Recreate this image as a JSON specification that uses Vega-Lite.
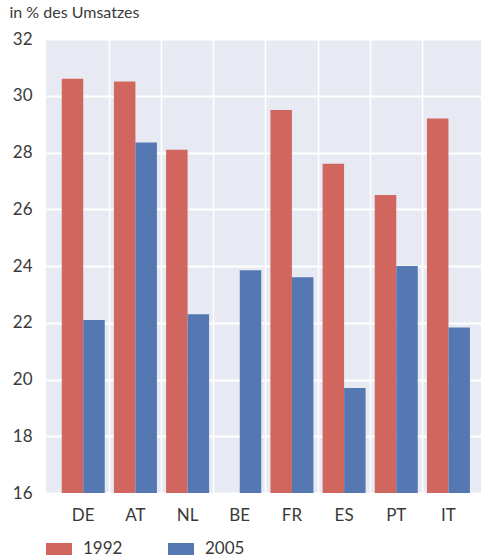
{
  "$schema": "https://vega.github.io/schema/vega-lite/v6.json",
  "width": 435,
  "height": 454,
  "autosize": {"type": "none"},
  "padding": {"left": 46, "top": 39, "right": 2, "bottom": 67},
  "background": "white",
  "config": {
    "view": {"fill": "#E8EAF3", "stroke": null},
    "font": "Lato",
    "axis": {"labelFont": "Lato", "labelColor": "#3a3a3a", "titleFont": "Lato"},
    "legend": {"labelFont": "Lato"}
  },
  "data": {
    "values": [
      {"country": "DE", "year": "1992", "value": 30.6},
      {"country": "DE", "year": "2005", "value": 22.1},
      {"country": "AT", "year": "1992", "value": 30.5},
      {"country": "AT", "year": "2005", "value": 28.35},
      {"country": "NL", "year": "1992", "value": 28.1},
      {"country": "NL", "year": "2005", "value": 22.3},
      {"country": "BE", "year": "2005", "value": 23.85},
      {"country": "FR", "year": "1992", "value": 29.5},
      {"country": "FR", "year": "2005", "value": 23.6},
      {"country": "ES", "year": "1992", "value": 27.6},
      {"country": "ES", "year": "2005", "value": 19.7},
      {"country": "PT", "year": "1992", "value": 26.5},
      {"country": "PT", "year": "2005", "value": 24.0},
      {"country": "IT", "year": "1992", "value": 29.2},
      {"country": "IT", "year": "2005", "value": 21.83}
    ]
  },
  "mark": {"type": "bar", "clip": true},
  "encoding": {
    "x": {
      "field": "country",
      "type": "nominal",
      "sort": ["DE", "AT", "NL", "BE", "FR", "ES", "PT", "IT"],
      "scale": {"paddingInner": 0, "paddingOuter": 0.169, "align": 0.633},
      "axis": {
        "title": null,
        "labelAngle": 0,
        "labelFontSize": 17,
        "labelPadding": 14,
        "ticks": false,
        "domain": false,
        "grid": true,
        "bandPosition": 0,
        "gridColor": "white",
        "gridWidth": 1.5,
        "gridOpacity": {"condition": {"test": "datum.value === 'DE'", "value": 0}, "value": 1}
      }
    },
    "xOffset": {
      "field": "year",
      "type": "nominal",
      "scale": {"paddingInner": 0, "paddingOuter": 0.213}
    },
    "y": {
      "field": "value",
      "type": "quantitative",
      "scale": {"domain": [16, 32], "nice": false, "zero": false},
      "axis": {
        "values": [16, 18, 20, 22, 24, 26, 28, 30, 32],
        "title": "in % des Umsatzes",
        "titleAngle": 0,
        "titleAlign": "left",
        "titleBaseline": "alphabetic",
        "titleX": -37,
        "titleY": -22,
        "titleFontSize": 16,
        "titleFontWeight": "normal",
        "titleColor": "#3a3a3a",
        "labelFontSize": 17,
        "labelPadding": 14,
        "ticks": false,
        "domain": false,
        "gridColor": "white",
        "gridWidth": 2
      }
    },
    "color": {
      "field": "year",
      "type": "nominal",
      "scale": {"domain": ["1992", "2005"], "range": ["#D0665D", "#5578B3"]},
      "legend": {
        "title": null,
        "orient": "none",
        "direction": "horizontal",
        "legendX": 0,
        "legendY": 497,
        "symbolType": "M-1,-0.46H1V0.46H-1Z",
        "symbolSize": 676,
        "symbolStrokeWidth": 0,
        "symbolOpacity": 1,
        "labelFontSize": 17,
        "labelColor": "#3a3a3a",
        "labelOffset": 11,
        "columnPadding": 45
      }
    }
  }
}
